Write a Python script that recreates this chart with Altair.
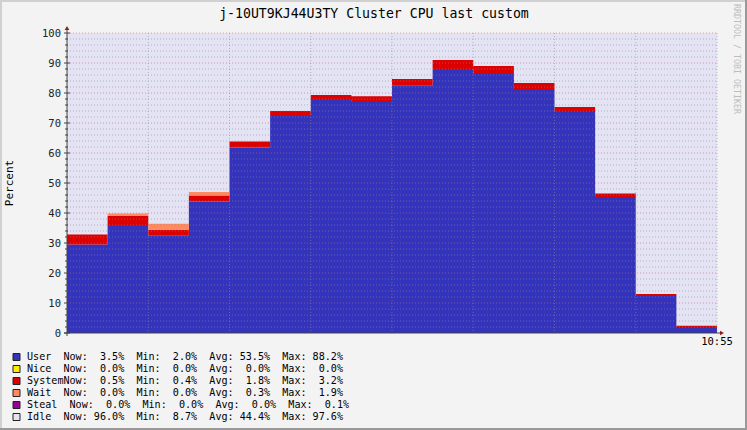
import altair as alt
import pandas as pd

# ---- data ----
steps = list(range(16))
user   = [29.5, 36.0, 32.4, 43.8, 61.8, 72.7, 77.7, 77.3, 82.4, 88.0, 86.3, 81.3, 74.0, 45.3, 12.3, 2.0]
nice   = [0.0] * 16
system = [3.3, 3.1, 2.0, 2.0, 2.0, 1.3, 1.6, 1.6, 2.3, 3.0, 2.7, 2.0, 1.3, 1.0, 0.7, 0.4]
wait   = [0.0, 0.7, 2.0, 1.2, 0, 0, 0, 0, 0, 0, 0, 0, 0, 0, 0, 0]
steal  = [0, 0, 0, 0, 0, 0, 0, 0, 0, 0, 0, 0, 0, 0.2, 0, 0]

series = ["User", "Nice", "System", "Wait", "Steal", "Idle"]
colors = ["#3333bb", "#ffea00", "#dd0000", "#ff8a60", "#990099", "#e4e3f3"]

legend_lines = [
    "User  Now:  3.5%  Min:  2.0%  Avg: 53.5%  Max: 88.2%",
    "Nice  Now:  0.0%  Min:  0.0%  Avg:  0.0%  Max:  0.0%",
    "SystemNow:  0.5%  Min:  0.4%  Avg:  1.8%  Max:  3.2%",
    "Wait  Now:  0.0%  Min:  0.0%  Avg:  0.3%  Max:  1.9%",
    "Steal  Now:  0.0%  Min:  0.0%  Avg:  0.0%  Max:  0.1%",
    "Idle  Now: 96.0%  Min:  8.7%  Avg: 44.4%  Max: 97.6%",
]

y_ticks = list(range(0, 101, 10))
y_minor = [v for v in range(2, 100, 2) if v % 10 != 0]
y_major = list(range(10, 101, 10))
x_grid = list(range(2, 17, 2))

title_text = "j-10UT9KJ44U3TY Cluster CPU last custom"
x_label = "10:55"
FONT = "DejaVu Sans Mono"

# ---- build table (step-after area: last step repeated at its right edge) ----
rows = []
for name, vals in zip(series[:5], [user, nice, system, wait, steal]):
    pts = list(zip(steps, vals)) + [(steps[-1] + 1, vals[-1])]
    for s, v in pts:
        rows.append({"step": s, "series": name,
                     "order": series.index(name), "value": v})
df = pd.DataFrame(rows)

W, H = 650, 300
xscale = alt.Scale(domain=[0, 16], nice=False, zero=False)
yscale = alt.Scale(domain=[0, 100], nice=False)

areas = alt.Chart(df).transform_stack(
    stack="value", groupby=["step"], as_=["y0", "y1"],
    sort=[alt.SortField("order", order="ascending")]
).mark_area(interpolate="step-after", strokeWidth=0).encode(
    x=alt.X("step:Q", scale=xscale, axis=None),
    y=alt.Y("y0:Q", scale=yscale, axis=None),
    y2="y1:Q",
    color=alt.Color("series:N", scale=alt.Scale(domain=series, range=colors), legend=None),
    detail="series:N",
)

minor_h = alt.Chart(pd.DataFrame({"v": y_minor})).mark_rule(
    color="#8a8a9a", opacity=0.55, strokeDash=[1, 2], strokeWidth=1
).encode(y=alt.Y("v:Q", scale=yscale, axis=None), x=alt.value(0), x2=alt.value(W))

major_h = alt.Chart(pd.DataFrame({"v": y_major})).mark_rule(
    color="#d06070", opacity=0.6, strokeDash=[1, 2], strokeWidth=1
).encode(y=alt.Y("v:Q", scale=yscale, axis=None), x=alt.value(0), x2=alt.value(W))

vert = alt.Chart(pd.DataFrame({"v": x_grid})).mark_rule(
    color="#8a8a9a", opacity=0.55, strokeDash=[1, 2], strokeWidth=1
).encode(x=alt.X("v:Q", scale=xscale, axis=None), y=alt.value(0), y2=alt.value(H))

minor_ticks = alt.Chart(pd.DataFrame({"v": y_minor})).mark_rule(
    color="#444", strokeWidth=1
).encode(y=alt.Y("v:Q", scale=yscale, axis=None), x=alt.value(-2), x2=alt.value(1))

major_ticks = alt.Chart(pd.DataFrame({"v": y_ticks})).mark_rule(
    color="#444", strokeWidth=1
).encode(y=alt.Y("v:Q", scale=yscale, axis=None), x=alt.value(-3), x2=alt.value(3))

y_labels = alt.Chart(pd.DataFrame({"v": y_ticks})).mark_text(
    font=FONT, fontSize=10.5, color="#222", align="right", baseline="middle", dy=1
).encode(y=alt.Y("v:Q", scale=yscale, axis=None), x=alt.value(-6), text="v:Q")

# axis lines and arrows
one = pd.DataFrame({"a": [0]})
yaxis_line = alt.Chart(one).mark_rule(color="#444").encode(
    x=alt.value(0), y=alt.value(-5), y2=alt.value(H + 3))
xaxis_line = alt.Chart(one).mark_rule(color="#444").encode(
    y=alt.value(H), x=alt.value(-3), x2=alt.value(W + 4))
arrow_up = alt.Chart(one).mark_point(shape="triangle-up", filled=True, color="#9a1a1a",
                                     size=22, opacity=1).encode(
    x=alt.value(0), y=alt.value(-5))
arrow_right = alt.Chart(one).mark_point(shape="triangle-right", filled=True, color="#9a1a1a",
                                        size=22, opacity=1).encode(
    x=alt.value(W + 5), y=alt.value(H))

def txt(s, x, y, size, color="#000", angle=0, align="center"):
    return alt.Chart(one).mark_text(
        text=s.replace(" ", "\u00a0"), font=FONT, fontSize=size, color=color,
        angle=angle, align=align, baseline="middle"
    ).encode(x=alt.value(x), y=alt.value(y))

layers = [areas, minor_h, major_h, vert, minor_ticks, major_ticks, y_labels,
          yaxis_line, xaxis_line, arrow_up, arrow_right,
          txt(title_text, 307, -19, 13.2),
          txt("Percent", -57, 150, 11, angle=270),
          txt(x_label, 650, 309, 10.5),
          txt("RRDTOOL / TOBI OETIKER", 669, 26, 8.3, color="#bdbdbd", angle=90)]

for i, (line, col) in enumerate(zip(legend_lines, colors)):
    yy = 324 + 12 * i
    sw = alt.Chart(one).mark_rect(color=col, stroke="#222", strokeWidth=1).encode(
        x=alt.value(-54), x2=alt.value(-47), y=alt.value(yy - 3.5), y2=alt.value(yy + 3.5))
    layers.append(sw)
    layers.append(txt(line, -40, yy, 10.1, align="left"))

# border
layers.append(alt.Chart(one).mark_rule(color="#d0d0d0", strokeWidth=2).encode(
    x=alt.value(-66), y=alt.value(-33), y2=alt.value(397)))
layers.append(alt.Chart(one).mark_rule(color="#d0d0d0", strokeWidth=2).encode(
    y=alt.value(-32), x=alt.value(-67), x2=alt.value(680)))
layers.append(alt.Chart(one).mark_rule(color="#999", strokeWidth=2).encode(
    x=alt.value(679), y=alt.value(-33), y2=alt.value(397)))
layers.append(alt.Chart(one).mark_rule(color="#999", strokeWidth=2).encode(
    y=alt.value(396), x=alt.value(-67), x2=alt.value(680)))

chart = alt.layer(*layers).properties(
    width=W, height=H,
    autosize=alt.AutoSizeParams(type="none"),
    padding={"left": 67, "top": 33, "right": 30, "bottom": 97},
    background="#f3f3f3",
).configure_view(fill="#e4e3f3", stroke=None)

chart.save("out.html", embed_options={"renderer": "svg", "actions": False})
